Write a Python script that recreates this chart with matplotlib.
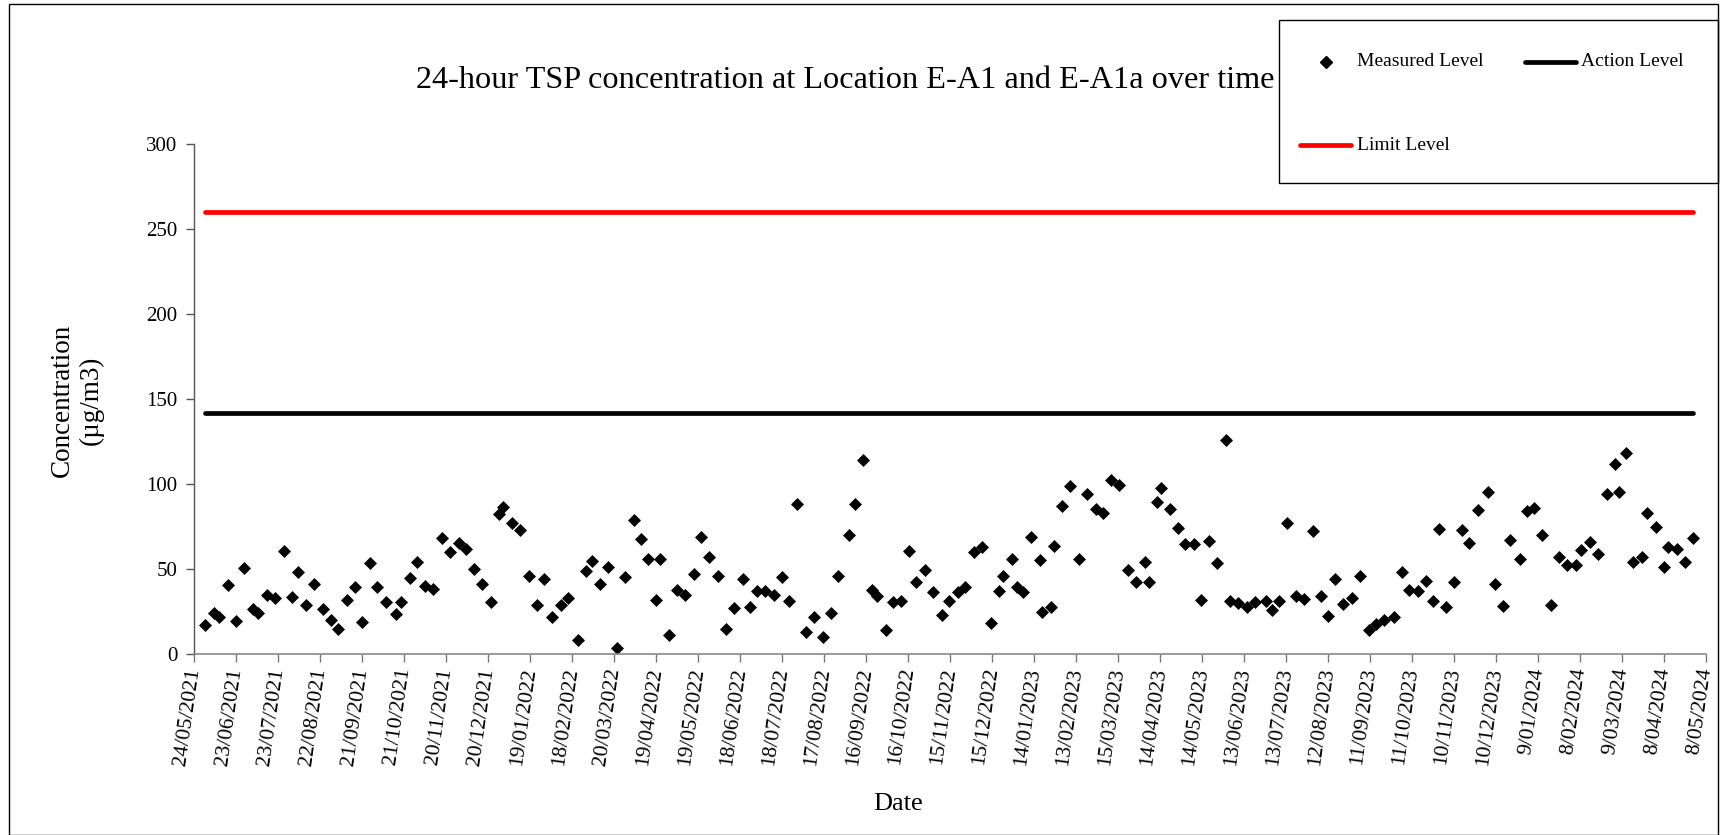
import datetime as dt
import matplotlib
matplotlib.use("Agg")
import matplotlib.pyplot as plt
import matplotlib.dates as mdates
from matplotlib.lines import Line2D
from matplotlib.patches import Rectangle
from matplotlib.ticker import FuncFormatter, MultipleLocator

plt.rcParams['font.family'] = ['Liberation Serif', 'DejaVu Serif']

start = dt.date(2021, 5, 24)

# sampling days, counted from 24/05/2021
days = [
    8, 14, 18, 24, 30, 36, 42, 46, 52, 58,
    64, 70, 74, 80, 86, 92, 98, 103, 109, 115,
    120, 126, 131, 137, 144, 148, 154, 159, 165, 171,
    177, 183, 189, 194, 200, 206, 212, 218, 221, 227,
    233, 239, 245, 250, 256, 262, 267, 274, 280, 284,
    290, 296, 302, 308, 314, 319, 324, 330, 333, 339,
    345, 351, 357, 362, 368, 374, 380, 386, 392, 397,
    402, 408, 414, 420, 425, 431, 437, 443, 449, 455,
    460, 468, 472, 478, 484, 488, 494, 499, 505, 511,
    516, 522, 528, 534, 539, 546, 551, 557, 563, 569,
    575, 578, 584, 588, 592, 598, 604, 606, 612, 614,
    620, 626, 632, 638, 644, 649, 655, 661, 667, 673,
    679, 682, 688, 691, 697, 703, 708, 714, 719, 725,
    731, 737, 740, 746, 752, 758, 766, 770, 775, 781,
    787, 793, 799, 805, 810, 815, 821, 827, 833, 839,
    844, 850, 857, 863, 868, 874, 880, 885, 889, 894,
    900, 906, 911, 917, 924, 929, 935, 940, 947, 952,
    957, 963, 969, 975, 981, 987, 991, 997, 1003, 1009,
    1015, 1018, 1023, 1028, 1034, 1038, 1044, 1050, 1053, 1059,
    1065, 1071]

measured = [
    16.9, 24.1, 21.6, 40.8, 19.2, 50.8, 26.7, 24.1, 34.5, 32.9,
    60.4, 33.3, 48.2, 28.6, 41.4, 26.5, 19.8, 14.9, 32.0, 39.4,
    18.6, 53.3, 39.2, 30.4, 23.7, 30.6, 44.7, 54.3, 40.0, 38.2,
    68.2, 59.8, 65.3, 62.0, 49.8, 41.0, 30.8, 82.4, 86.3, 77.1,
    73.1, 46.1, 28.8, 43.9, 21.8, 29.0, 32.9, 8.0, 49.0, 54.9,
    41.0, 51.0, 3.5, 45.1, 79.0, 67.8, 55.9, 32.0, 55.9, 11.0,
    37.8, 34.9, 47.1, 68.8, 56.9, 46.1, 14.9, 27.1, 43.9, 27.8,
    36.9, 36.9, 34.9, 45.1, 31.0, 88.2, 12.9, 22.0, 9.8, 24.1,
    46.1, 70.2, 88.2, 114.1, 37.5, 33.9, 13.9, 30.4, 31.4, 60.4,
    42.2, 49.2, 36.3, 22.7, 31.4, 36.5, 39.2, 60.0, 62.9, 18.0,
    36.9, 46.1, 55.9, 39.2, 36.5, 68.6, 55.3, 24.7, 27.6, 63.7,
    86.9, 99.0, 55.9, 94.1, 85.3, 82.7, 102.5, 99.2, 49.6, 42.4,
    53.9, 42.2, 89.2, 97.5, 85.1, 74.1, 64.7, 64.7, 32.0, 66.7,
    53.3, 126.1, 31.0, 30.0, 27.8, 30.4, 31.0, 25.7, 31.0, 77.1,
    33.9, 32.5, 72.2, 33.9, 22.4, 44.1, 29.6, 32.9, 46.1, 13.9,
    17.5, 20.2, 21.6, 48.2, 37.5, 36.9, 42.9, 31.4, 73.7, 27.6,
    42.2, 72.9, 65.5, 84.5, 95.3, 41.0, 28.0, 66.9, 56.1, 84.1,
    85.9, 70.2, 28.8, 57.1, 52.2, 52.2, 61.0, 65.9, 58.8, 94.1,
    112.0, 95.1, 118.0, 53.9, 57.1, 82.9, 74.9, 51.2, 62.9, 62.0,
    53.9, 68.0]

action_level = 142
limit_level = 260

dates = [start + dt.timedelta(days=d) for d in days]

fig = plt.figure(figsize=(17.22, 8.35), dpi=100)
ax = fig.add_axes([194 / 1722, 1 - 654 / 835, 1512 / 1722, 510 / 835])

ax.plot(dates, measured, linestyle='none', marker='D', ms=6.2, color='black', mew=0.5)
ax.plot(dates, [action_level] * len(dates), color='black', lw=3.4, solid_capstyle='round')
ax.plot(dates, [limit_level] * len(dates), color='#ff0000', lw=3.4, solid_capstyle='round')

ax.set_xlim(start, start + dt.timedelta(days=1080))
ax.set_ylim(0, 300)
tick_dates = [start + dt.timedelta(days=30 * i) for i in range(37)]
ax.set_xticks(tick_dates)
ax.xaxis.set_major_formatter(FuncFormatter(
    lambda v, p: (lambda d: f"{d.day}/{d.month:02d}/{d.year}")(mdates.num2date(v))))
ax.yaxis.set_major_locator(MultipleLocator(50))

for lab in ax.get_xticklabels():
    lab.set_rotation(82)
    lab.set_ha('right')
    lab.set_va('center')
    lab.set_rotation_mode('anchor')
ax.tick_params(axis='x', labelsize=15.5, length=6, width=1, color='#777777', pad=4)
ax.tick_params(axis='y', labelsize=15, length=6, width=1, color='#555555', pad=6)

for s in ['top', 'right']:
    ax.spines[s].set_visible(False)
ax.spines['bottom'].set_color('#888888')
ax.spines['left'].set_color('#555555')
ax.spines['bottom'].set_linewidth(1.2)
ax.spines['left'].set_linewidth(1.0)

fig.text(845 / 1722, 1 - 81 / 835, '24-hour TSP concentration at Location E-A1 and E-A1a over time',
         ha='center', va='center', fontsize=23.2)
fig.text(77 / 1722, 1 - 400 / 835, 'Concentration\n(µg/m3)', rotation=90,
         ha='center', va='center', fontsize=19.5, multialignment='center')
fig.text(898 / 1722, 1 - 804 / 835, 'Date', ha='center', va='center', fontsize=19)

# chart border and legend box
fig.add_artist(Rectangle((9 / 1722, 0), 1709 / 1722, 831 / 835, transform=fig.transFigure,
                         fill=False, edgecolor='black', lw=1.0))
fig.add_artist(Rectangle((1279 / 1722, 1 - 183 / 835), 439 / 1722, 163 / 835,
                         transform=fig.transFigure, fill=False, edgecolor='black', lw=1.0))

def px(x, y):
    return x / 1722, 1 - y / 835

fig.add_artist(Line2D([px(1326, 62)[0]], [px(1326, 62)[1]], marker='D', ms=6.2, color='black',
                      linestyle='none', transform=fig.transFigure))
fig.text(*px(1357, 62), 'Measured Level', ha='left', va='center', fontsize=14)
fig.add_artist(Line2D([px(1525, 62)[0], px(1576, 62)[0]], [px(1525, 62)[1]] * 2, color='black',
                      lw=3.4, solid_capstyle='round', transform=fig.transFigure))
fig.text(*px(1581, 62), 'Action Level', ha='left', va='center', fontsize=14)
fig.add_artist(Line2D([px(1300, 145)[0], px(1351, 145)[0]], [px(1300, 145)[1]] * 2, color='#ff0000',
                      lw=3.4, solid_capstyle='round', transform=fig.transFigure))
fig.text(*px(1357, 145), 'Limit Level', ha='left', va='center', fontsize=14)

fig.savefig('out.png', dpi=100)
